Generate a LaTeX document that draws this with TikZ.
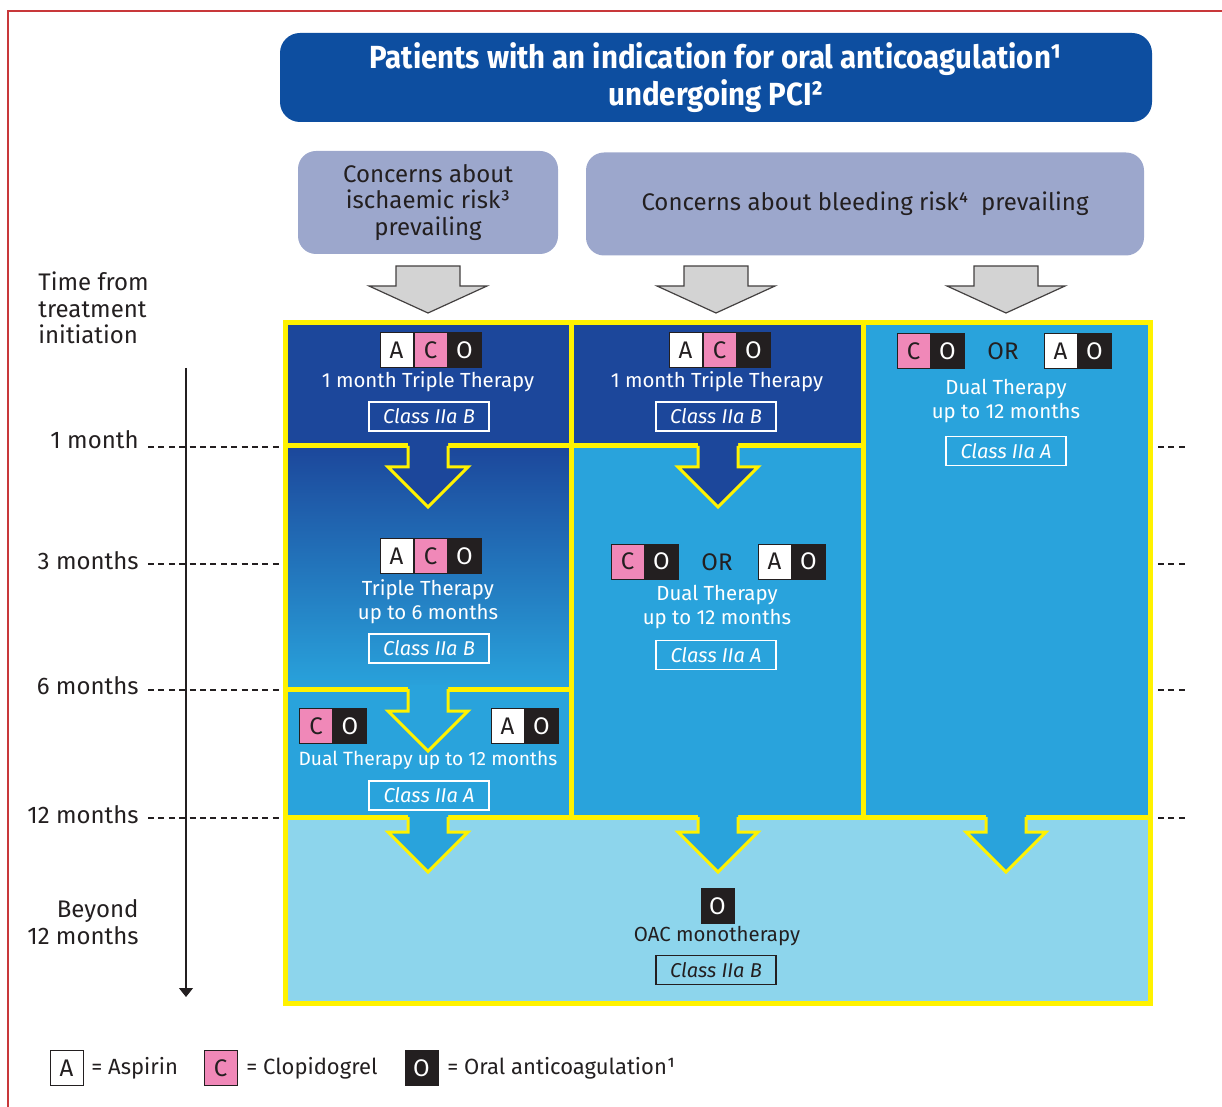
\documentclass[tikz,border=0pt]{standalone}
\usepackage{fontspec}
\setmainfont{Fira Sans}
\usetikzlibrary{positioning, arrows.meta}

\definecolor{hdblue}{HTML}{0D4EA0}
\definecolor{dblue}{HTML}{1C479B}
\definecolor{mblue}{HTML}{29A3DC}
\definecolor{lblue}{HTML}{8DD5EC}
\definecolor{lav}{HTML}{9CA7CC}
\definecolor{ylw}{HTML}{FFF200}
\definecolor{pnk}{HTML}{F088B8}
\definecolor{blk}{HTML}{231F20}
\definecolor{frame}{HTML}{C8383A}
\definecolor{arrgrey}{HTML}{D3D3D3}

% arrow through a yellow line: x centre, top, head start, fill
\newcommand{\yarrow}[4]{%
  \fill[#4] (#1-20,#2-4) -- (#1-20,#3) -- (#1-40,#3) -- (#1,#3+40) -- (#1+40,#3) -- (#1+20,#3) -- (#1+20,#2-4) -- cycle;
  \draw[yarr] (#1-20,#2) -- (#1-20,#3) -- (#1-40,#3) -- (#1,#3+40) -- (#1+40,#3) -- (#1+20,#3) -- (#1+20,#2);}
% grey arrow under a concern box
\newcommand{\greyarrow}[1]{%
  \draw[fill=arrgrey, draw=blk!85, line width=0.6pt] (#1-32,266) -- (#1+32,266) -- (#1+32,286) -- (#1+59,286) -- (#1,313) -- (#1-59,286) -- (#1-32,286) -- cycle;}

\begin{document}
\begin{tikzpicture}[x=0.5pt, y=-0.5pt,
    every node/.style={inner sep=0pt, align=center, font=\fontsize{10.2}{12}\selectfont},
    yline/.style={draw=ylw, line width=2.5pt},
    yarr/.style={draw=ylw, line width=1.5pt, line join=miter},
    dashln/.style={draw=blk, line width=1pt, dash pattern=on 3pt off 2.2pt},
    txt/.style={text=white},
    drug/.style={draw=blk, line width=0.5pt, minimum width=16.5pt, minimum height=17.5pt, font=\fontsize{12}{12}\selectfont},
    asp/.style={drug, fill=white, text=blk},
    clo/.style={drug, fill=pnk, text=blk},
    oac/.style={drug, fill=blk, text=white},
    cls/.style={draw=white, line width=0.7pt, minimum width=60pt, minimum height=14.5pt, text=white, font=\fontsize{10}{12}\selectfont\itshape},
    orlbl/.style={text=blk, font=\fontsize{12}{12}\selectfont},
    timelbl/.style={text=blk, font=\fontsize{12}{13.3}\selectfont}]
    \useasboundingbox (0,0) rectangle (1222,1107);
    \draw[frame, line width=1.2pt] (8,1115) -- (8,11) -- (1230,11);

    % header and the two concerns
    \node[fill=hdblue, rounded corners=10pt, minimum width=436pt, minimum height=44.5pt, text=white,
          font=\fontsize{16}{18.5}\selectfont\bfseries\addfontfeature{FakeStretch=0.92}] (head) at (716,77.5)
          {\raisebox{-2pt}{\parbox{400pt}{\centering Patients with an indication for oral anticoagulation¹\\undergoing PCI²}}};
    \node[fill=lav, rounded corners=9pt, minimum width=130pt, minimum height=51.5pt, text=blk,
          font=\fontsize{12}{13.3}\selectfont] (isch) at (428,202.5) {Concerns about\\ischaemic risk³\\prevailing};
    \node[fill=lav, rounded corners=9pt, minimum width=279pt, minimum height=51.5pt, text=blk,
          font=\fontsize{12}{13.3}\selectfont] (bleed) at (865,204) {Concerns about bleeding risk⁴\ \ prevailing};
    \greyarrow{428}
    \greyarrow{716}
    \greyarrow{1006}

    % cells
    \fill[dblue] (285,323) rectangle (571,446);
    \shade[top color=dblue, bottom color=mblue] (285,446) rectangle (571,689);
    \fill[mblue] (285,689) rectangle (571,817);
    \fill[dblue] (571,323) rectangle (863,446);
    \fill[mblue] (571,446) rectangle (863,817);
    \fill[mblue] (863,323) rectangle (1150,817);
    \fill[lblue] (285,817) rectangle (1150,1003);
    \draw[yline] (285,323) rectangle (1150,1003);
    \draw[yline] (571,323) -- (571,817);
    \draw[yline] (863,323) -- (863,817);
    \draw[yline] (285,446) -- (863,446);
    \draw[yline] (285,689) -- (571,689);
    \draw[yline] (285,817) -- (1150,817);
    \yarrow{428}{446}{467}{dblue}
    \yarrow{718}{446}{467}{dblue}
    \yarrow{428}{689}{711}{mblue}
    \yarrow{428}{817}{832}{mblue}
    \yarrow{718}{817}{832}{mblue}
    \yarrow{1006}{817}{832}{mblue}

    % time axis
    \node[timelbl, anchor=west, align=left] (tfrom) at (38,308) {Time from\\treatment\\initiation};
    \coordinate (ttop) at (186,368);
    \coordinate (tend) at (186,997);
    \draw[blk, line width=0.6pt, -{Triangle[width=7pt,length=4.5pt]}] (ttop) -- (tend);
    \node[timelbl, anchor=east] (m1) at (139,440) {1 month};
    \node[timelbl, anchor=east] (m3) at (139,561) {3 months};
    \node[timelbl, anchor=east] (m6) at (139,686) {6 months};
    \node[timelbl, anchor=east] (m12) at (139,815) {12 months};
    \node[timelbl, anchor=east, align=right] (mbey) at (139,922) {Beyond\\12 months};
    \foreach \y in {447,564,690,818}{
        \draw[dashln] (148,\y) -- (282,\y);
        \draw[dashln] (1158,\y) -- (1186,\y);
    }

    % column 1
    \node[asp] (a1) at (396.5,350) {A};
    \node[clo, right=0pt of a1] (c1) {C};
    \node[oac, right=0pt of c1] (o1) {O};
    \node[txt] (tt1) at (428,382) {1 month Triple Therapy};
    \node[cls] (k1) at (429,416.5) {Class IIa B};
    \node[asp] (a2) at (396.5,556) {A};
    \node[clo, right=0pt of a2] (c2) {C};
    \node[oac, right=0pt of c2] (o2) {O};
    \node[txt] (tt2) at (428,602) {Triple Therapy\\up to 6 months};
    \node[cls] (k2) at (429,648.5) {Class IIa B};
    \node[clo] (c3) at (316,726) {C};
    \node[oac, right=0pt of c3] (o3) {O};
    \node[asp] (a3) at (507.5,726) {A};
    \node[oac, right=0pt of a3] (o3b) {O};
    \node[txt, font=\fontsize{9.6}{12}\selectfont] (dt1) at (428,760) {Dual Therapy up to 12 months};
    \node[cls] (k3) at (429,795.5) {Class IIa A};

    % column 2
    \node[asp] (a4) at (685.5,350) {A};
    \node[clo, right=0pt of a4] (c4) {C};
    \node[oac, right=0pt of c4] (o4) {O};
    \node[txt] (tt4) at (717,382) {1 month Triple Therapy};
    \node[cls] (k4) at (716,416.5) {Class IIa B};
    \node[clo] (c5) at (627.5,561.5) {C};
    \node[oac, right=0pt of c5] (o5) {O};
    \node[orlbl] (or5) at (717,562) {OR};
    \node[asp] (a5) at (774.5,561.5) {A};
    \node[oac, right=0pt of a5] (o5b) {O};
    \node[txt] (dt5) at (717,607.5) {Dual Therapy\\up to 12 months};
    \node[cls] (k5) at (716,655) {Class IIa A};

    % column 3
    \node[clo] (c6) at (913.5,351) {C};
    \node[oac, right=0pt of c6] (o6) {O};
    \node[orlbl] (or6) at (1003,351) {OR};
    \node[asp] (a6) at (1060.5,351) {A};
    \node[oac, right=0pt of a6] (o6b) {O};
    \node[txt] (dt6) at (1006,401) {Dual Therapy\\up to 12 months};
    \node[cls] (k6) at (1006,451) {Class IIa A};

    % beyond 12 months
    \node[oac] (o7) at (717.5,906) {O};
    \node[text=blk] (mono) at (717,936) {OAC monotherapy};
    \node[cls, draw=blk, text=blk] (k7) at (716,970) {Class IIa B};

    % legend
    \node[asp] (la) at (66.5,1068) {A};
    \node[text=blk, anchor=west, font=\fontsize{11}{11}\selectfont] (lat) at (91,1068) {= Aspirin};
    \node[clo] (lc) at (220.5,1068) {C};
    \node[text=blk, anchor=west, font=\fontsize{11}{11}\selectfont] (lct) at (246,1068) {= Clopidogrel};
    \node[oac] (lo) at (421.5,1068) {O};
    \node[text=blk, anchor=west, font=\fontsize{11}{11}\selectfont] (lot) at (447,1068) {= Oral anticoagulation¹};
\end{tikzpicture}
\end{document}
